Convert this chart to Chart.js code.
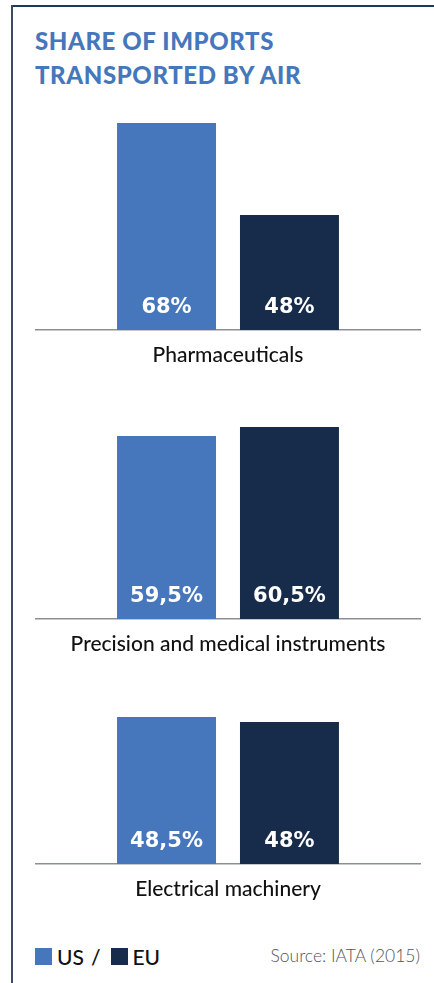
<!DOCTYPE html>
<html>
<head>
<meta charset="utf-8">
<script src="https://cdn.jsdelivr.net/npm/chart.js@4/dist/chart.umd.min.js"></script>
<style>
  html, body { margin: 0; padding: 0; background: #ffffff; }
  body { width: 434px; height: 983px; position: relative; overflow: hidden; font-family: Lato, "Noto Sans", sans-serif; }
  .frame-top { position: absolute; left: 11px; top: 5px; width: 423px; height: 2px; background: #22355a; }
  .frame-left { position: absolute; left: 11px; top: 5px; width: 2px; height: 978px; background: #3a4a66; }
  .title { position: absolute; left: 35px; top: 24px; color: #4676bb; font-weight: 900; font-size: 24px; line-height: 34px; letter-spacing: 0.6px; }
  .chartbox { position: absolute; left: 35px; width: 386px; }
  .legend { position: absolute; left: 35px; top: 943px; height: 26px; display: flex; align-items: center; font-size: 21px; color: #111; font-weight: 500; }
  .sw { display: inline-block; width: 17px; height: 17px; margin-right: 5px; }
  .sep { margin: 0 10px 0 7px; }
  .source { position: absolute; right: 14px; top: 945px; font-size: 17.5px; color: #555; font-weight: 300; }
</style>
</head>
<body>
<div class="frame-top"></div>
<div class="frame-left"></div>
<div class="title">SHARE OF IMPORTS<br>TRANSPORTED BY AIR</div>

<div class="chartbox" style="top:100px;height:276px"><canvas id="c0"></canvas></div>
<div class="chartbox" style="top:400px;height:265px"><canvas id="c1"></canvas></div>
<div class="chartbox" style="top:690px;height:220px"><canvas id="c2"></canvas></div>

<div class="legend" id="legend"></div>
<div class="source" id="source"></div>

<script>
// ---- data ----
const categories = ["Pharmaceuticals", "Precision and medical instruments", "Electrical machinery"];
const seriesNames = ["US", "EU"];
const usValues = [68, 59.5, 48.5];
const euValues = [48, 60.5, 48];
const axisMin = [23, 39.2, 33.8];
const axisMax = [73, 63.5, 51.2];
const sourceText = "Source: IATA (2015)";

const colors = ["#4676bb", "#172b4a"];

function fmt(v) { return String(v).replace('.', ',') + '%'; }

const valueLabels = {
  id: 'valueLabels',
  afterDraw(chart) {
    const ctx = chart.ctx;
    const bottom = chart.chartArea.bottom;
    ctx.save();
    ctx.fillStyle = '#ffffff';
    ctx.font = 'bold 21px "DejaVu Sans", sans-serif';
    ctx.textAlign = 'center';
    ctx.textBaseline = 'middle';
    chart.data.datasets.forEach((ds, di) => {
      const meta = chart.getDatasetMeta(di);
      meta.data.forEach((el, i) => {
        const p = el.getProps(['x'], true);
        ctx.fillText(fmt(ds.data[i]), p.x, bottom - 22);
      });
    });
    ctx.restore();
  }
};

categories.forEach((cat, k) => {
  new Chart(document.getElementById('c' + k), {
    type: 'bar',
    data: {
      labels: [cat],
      datasets: [
        { label: seriesNames[0], data: [usValues[k]], backgroundColor: colors[0] },
        { label: seriesNames[1], data: [euValues[k]], backgroundColor: colors[1] }
      ]
    },
    options: {
      responsive: true,
      maintainAspectRatio: false,
      animation: false,
      layout: { padding: 0 },
      categoryPercentage: 0.637,
      barPercentage: 0.805,
      plugins: { legend: { display: false }, tooltip: { enabled: false } },
      scales: {
        x: {
          grid: { display: false, drawTicks: false },
          border: { display: true, color: '#8a8f99', width: 1.5 },
          ticks: { color: '#111111', padding: 13, font: { family: 'Lato, "Noto Sans", sans-serif', size: 21, weight: 500 } },
          afterFit: s => { s.height = 46; }
        },
        y: { display: false, min: axisMin[k], max: axisMax[k] }
      }
    },
    plugins: [valueLabels]
  });
});

// legend
const lg = document.getElementById('legend');
seriesNames.forEach((n, i) => {
  if (i > 0) { const s = document.createElement('span'); s.className = 'sep'; s.textContent = '/'; lg.appendChild(s); }
  const sw = document.createElement('span'); sw.className = 'sw'; sw.style.background = colors[i]; lg.appendChild(sw);
  const t = document.createElement('span'); t.textContent = n; lg.appendChild(t);
});
document.getElementById('source').textContent = sourceText;
</script>
</body>
</html>
